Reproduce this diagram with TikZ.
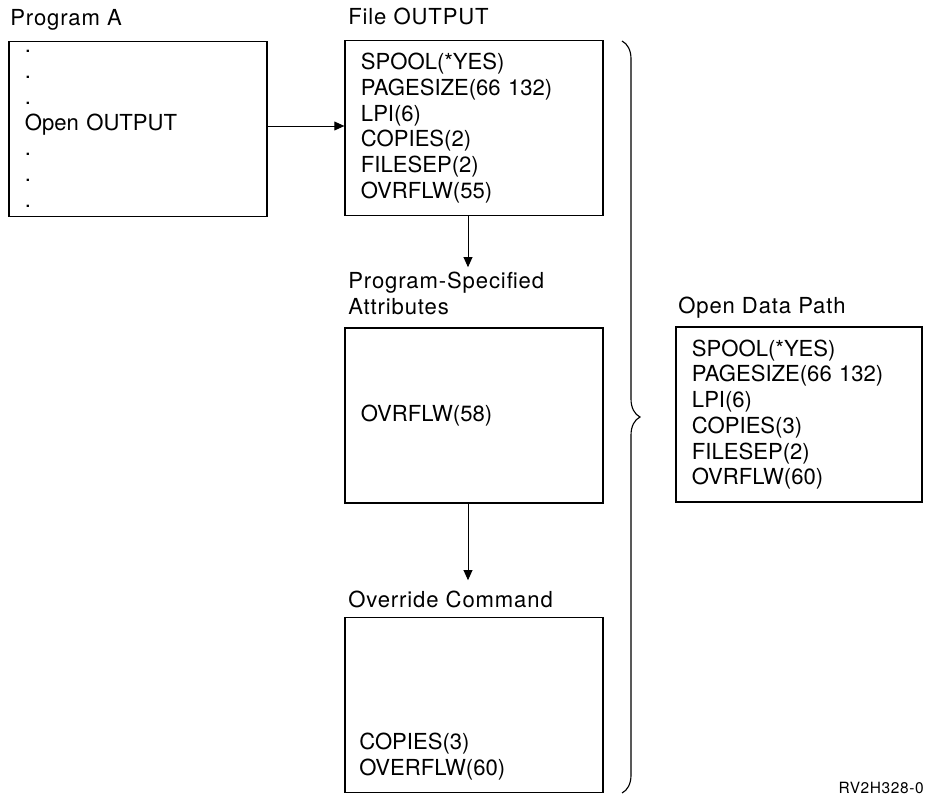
\documentclass[tikz,border=0pt]{standalone}
\usepackage{fontspec}
\setmainfont{TeX Gyre Heros}
\newfontfamily\lblfont[LetterSpace=4]{TeX Gyre Heros}
\usetikzlibrary{arrows.meta,positioning,decorations.pathreplacing}

\begin{document}
\begin{tikzpicture}[x=0.025cm,y=-0.025cm,>={Triangle[length=0.25cm,width=0.22cm]},
 box/.style={draw,line width=0.8pt,minimum width=6.45cm,minimum height=4.375cm,inner xsep=0.4cm,
  text width=5.65cm,align=left,font=\fontsize{15.7}{18.3}\selectfont},
 lbl/.style={inner sep=0pt,anchor=north west,align=left,font=\lblfont\fontsize{15.7}{18}\selectfont},
 arr/.style={->,line width=0.7pt}]
\useasboundingbox (0,0) rectangle (925,795);
% program and its file
\node[lbl] (proglbl) at (10,9) {Program A};
\node[box] (prog) at (138,129) {.\\.\\.\\Open OUTPUT\\.\\.\\.};
\node[lbl] (filelbl) at (348,8) {File OUTPUT};
\node[box] (file) at (474,128) {SPOOL(*YES)\\PAGESIZE(66 132)\\LPI(6)\\COPIES(2)\\FILESEP(2)\\OVRFLW(55)};
% attributes from the program, then the override
\node[lbl] (attrlbl) at (348,272) {Program-Specified\\Attributes};
\node[box] (attr) at (474,415.5) {OVRFLW(58)};
\node[lbl] (ovrlbl) at (348,591) {Override Command};
\node[box] (ovr) at (474,705) {};
\node[inner sep=0pt,anchor=south west,align=left,font=\fontsize{15.7}{18.3}\selectfont] (ovrtxt) at (359,780) {COPIES(3)\\OVERFLW(60)};
% result
\node[lbl] (odplbl) at (678,297) {Open Data Path};
\node[box,minimum width=6.15cm,text width=5.35cm] (odp) at (799,414.5) {SPOOL(*YES)\\PAGESIZE(66 132)\\LPI(6)\\COPIES(3)\\FILESEP(2)\\OVRFLW(60)};
\node[inner sep=0pt,anchor=base east,font=\lblfont\fontsize{11}{13}\selectfont] (figid) at (924,793) {RV2H328-0};

\draw[arr] ([yshift=0.075cm]prog.east) -- ([yshift=0.075cm]prog.east -| file.west);
\draw[arr,shorten >=0.12cm] ([xshift=-0.15cm]file.south) -- ([xshift=-0.15cm]file.south |- attrlbl.north);
\draw[arr,shorten >=0.27cm] ([xshift=-0.15cm]attr.south) -- ([xshift=-0.15cm]attr.south |- ovrlbl.north);

\coordinate (bracetop) at (622,41);
\coordinate (bracebot) at (622,793);
\draw[decorate,decoration={brace,amplitude=0.45cm},line width=0.8pt] (bracetop) -- (bracebot);
\end{tikzpicture}
\end{document}
